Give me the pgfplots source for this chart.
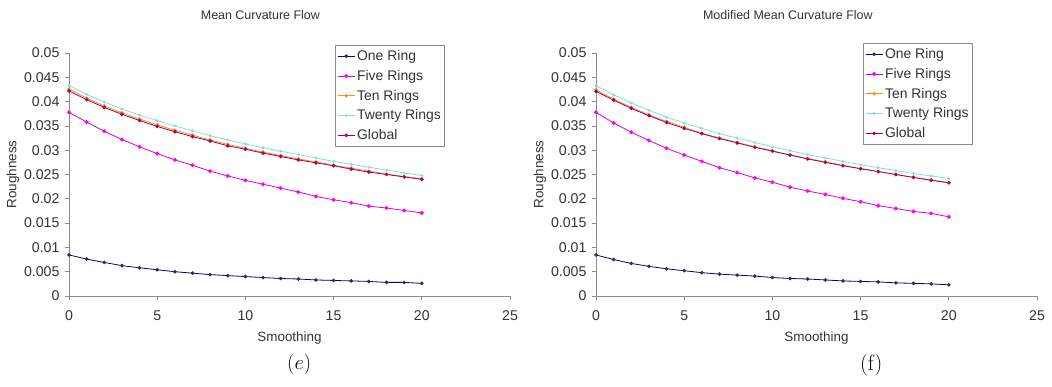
\documentclass[border=0pt]{standalone}
\usepackage{pgfplots}
\usepackage{pgfplotstable}
\pgfplotsset{compat=1.18}
\usepackage{fontspec}
\newfontfamily\arial{Liberation Sans}
\definecolor{cOne}{HTML}{000080}
\definecolor{cFive}{HTML}{FF00FF}
\definecolor{cTen}{HTML}{FF8C1A}
\definecolor{cTwenty}{HTML}{7FE0E0}
\definecolor{cGlob}{HTML}{800080}
\definecolor{axgray}{HTML}{8C8C8C}

\pgfplotstableread{
x one five ten twenty global
0 0.00845 0.0378 0.0426 0.0433 0.0422
1 0.0076 0.0358 0.0407 0.0415 0.0404
2 0.0069 0.0339 0.0391 0.0399 0.0388
3 0.00625 0.0322 0.0377 0.0385 0.0374
4 0.0058 0.0307 0.0364 0.0372 0.0361
5 0.0054 0.0293 0.0352 0.0361 0.0349
6 0.0050 0.0280 0.0341 0.0350 0.0338
7 0.0047 0.0269 0.0331 0.0340 0.0328
8 0.0044 0.0257 0.0321 0.0330 0.0319
9 0.0042 0.0247 0.0312 0.0321 0.0309
10 0.0040 0.0238 0.0304 0.0313 0.0302
11 0.0038 0.0230 0.0296 0.0305 0.0294
12 0.0036 0.0222 0.0289 0.0298 0.0287
13 0.0035 0.0214 0.0282 0.0291 0.0280
14 0.0033 0.0205 0.0276 0.0284 0.0274
15 0.0032 0.0198 0.0269 0.0277 0.0268
16 0.0031 0.0192 0.0263 0.0271 0.0261
17 0.0030 0.0185 0.0257 0.0265 0.0255
18 0.0028 0.0181 0.0251 0.0259 0.0250
19 0.0028 0.0176 0.0246 0.0253 0.0245
20 0.0026 0.0171 0.0241 0.0248 0.0240
}\dataE

\pgfplotstableread{
x one five ten twenty global
0 0.00845 0.0378 0.0424 0.0433 0.0421
1 0.0075 0.0356 0.0405 0.0414 0.0403
2 0.0067 0.0337 0.0388 0.0397 0.0386
3 0.0061 0.0320 0.0373 0.0382 0.0371
4 0.0056 0.0304 0.0359 0.0368 0.0357
5 0.0052 0.0290 0.0347 0.0356 0.0345
6 0.0048 0.0277 0.0335 0.0345 0.0334
7 0.0045 0.0264 0.0325 0.0334 0.0324
8 0.0043 0.0254 0.0316 0.0325 0.0315
9 0.0041 0.0243 0.0307 0.0316 0.0306
10 0.0038 0.0234 0.0299 0.0307 0.0298
11 0.0036 0.0224 0.0290 0.0299 0.0290
12 0.0035 0.0216 0.0283 0.0291 0.0282
13 0.0033 0.0209 0.0276 0.0284 0.0275
14 0.0031 0.0201 0.0269 0.0277 0.0268
15 0.0030 0.0194 0.0262 0.0270 0.0262
16 0.0029 0.0186 0.0256 0.0264 0.0256
17 0.0027 0.0180 0.0250 0.0258 0.0250
18 0.0026 0.0174 0.0244 0.0252 0.0244
19 0.0025 0.0170 0.0239 0.0247 0.0238
20 0.0023 0.0163 0.0233 0.0242 0.0233
}\dataF

\pgfplotsset{
  rough/.style={
    scale only axis, width=441bp, height=243bp, clip=false,
    xmin=0, xmax=25, ymin=0, ymax=0.05,
    axis x line*=bottom, axis y line*=left,
    axis line style={axgray, line width=0.8bp},
    xtick={0,5,10,15,20,25},
    ytick={0,0.005,0.01,0.015,0.02,0.025,0.03,0.035,0.04,0.045,0.05},
    tick align=outside, major tick length=4bp,
    tick style={axgray, line width=0.8bp},
    scaled y ticks=false,
    yticklabel style={/pgf/number format/fixed, /pgf/number format/precision=3, xshift=-2bp},
    xticklabel style={yshift=-7bp},
    /pgf/number format/assume math mode=true,
    tick label style={font=\arial\fontsize{14.2}{16}\selectfont, text=black!80},
    xlabel=Smoothing, ylabel=Roughness,
    label style={font=\arial\fontsize{13.5}{16}\selectfont, text=black!80},
    xlabel style={at={(axis description cs:0.5,-0.173)}, anchor=center},
    ylabel style={at={(axis description cs:-0.127,0.5)}, anchor=center},
    title style={font=\arial\fontsize{12.5}{14}\selectfont, text=black!80, anchor=center, yshift=0pt},
    legend style={anchor=north west, draw=axgray, fill=white, line width=0.8bp,
      font=\arial\fontsize{14}{16}\selectfont, text=black!80,
      inner xsep=2bp, inner ysep=3bp, row sep=4.2bp, legend cell align=left,
      nodes={inner xsep=2bp}},
    legend image code/.code={\draw[mark repeat=2,mark phase=2] plot coordinates {(0bp,0bp) (8.5bp,0bp) (17bp,0bp)};},
    every axis plot/.append style={line width=0.8bp, mark=*, mark size=1.4bp},
  }
}

\begin{document}
\begin{tikzpicture}
\path[use as bounding box] (0,0) rectangle (1052bp,387bp);
\begin{axis}[rough, at={(69bp,91bp)}, anchor=origin,
  title={Mean Curvature Flow}, title style={at={(axis description cs:0.434,1.13)}},
  legend style={at={(rel axis cs:0.603,1.033)}}]
\addplot[cOne, mark options={fill=black!80,draw=black!80}] table[x=x,y=one] {\dataE};
\addplot[cFive!70!cGlob, mark options={fill=cFive,draw=cFive}, mark size=1.6bp] table[x=x,y=five] {\dataE};
\addplot[cTen, mark options={fill=cTen,draw=cTen}] table[x=x,y=ten] {\dataE};
\addplot[cTwenty, mark options={fill=cTwenty,draw=cTwenty}, mark size=1bp] table[x=x,y=twenty] {\dataE};
\addplot[cGlob!80!red, mark options={fill=cGlob!60!red,draw=cGlob!60!red}] table[x=x,y=global] {\dataE};
\legend{One Ring, Five Rings, Ten Rings, Twenty Rings, Global}
\node[font=\fontsize{22}{24}\selectfont] at (rel axis cs:0.522,-0.283) {$(e)$};
\end{axis}
\begin{axis}[rough, at={(596bp,91bp)}, anchor=origin,
  title={Modified Mean Curvature Flow}, title style={at={(axis description cs:0.435,1.13)}},
  legend style={at={(rel axis cs:0.605,1.041)}}]
\addplot[cOne, mark options={fill=black!80,draw=black!80}] table[x=x,y=one] {\dataF};
\addplot[cFive!70!cGlob, mark options={fill=cFive,draw=cFive}, mark size=1.6bp] table[x=x,y=five] {\dataF};
\addplot[cTen, mark options={fill=cTen,draw=cTen}] table[x=x,y=ten] {\dataF};
\addplot[cTwenty, mark options={fill=cTwenty,draw=cTwenty}, mark size=1bp] table[x=x,y=twenty] {\dataF};
\addplot[cGlob!80!red, mark options={fill=cGlob!60!red,draw=cGlob!60!red}] table[x=x,y=global] {\dataF};
\legend{One Ring, Five Rings, Ten Rings, Twenty Rings, Global}
\node[font=\fontsize{22}{24}\selectfont] at (rel axis cs:0.624,-0.283) {(f)};
\end{axis}
\end{tikzpicture}
\end{document}
